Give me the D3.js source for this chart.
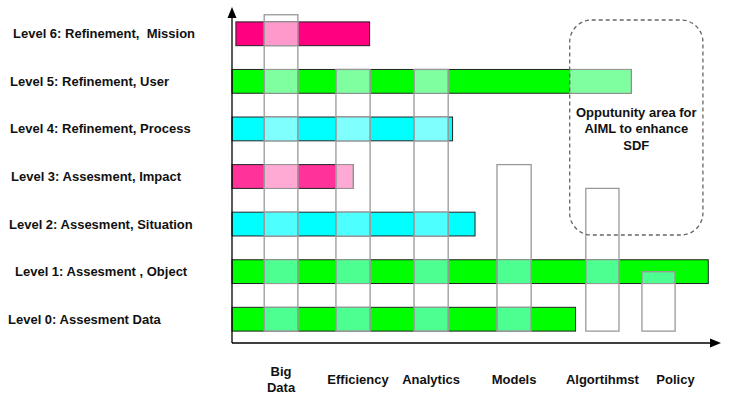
<!DOCTYPE html>
<html>
<head>
<meta charset="utf-8">
<script src="https://cdn.jsdelivr.net/npm/d3@7"></script>
<style>
  body { margin: 0; background: #fff; }
  svg { display: block; font-family: "Liberation Sans", Arial, sans-serif; }
  text { white-space: pre; }
</style>
</head>
<body>
<div id="chart"></div>
<script>
// levels, bottom to top
var levels = ["Level 0: Assesment Data", "Level 1: Assesment , Object", "Level 2: Assesment, Situation",
              "Level 3: Assesment, Impact", "Level 4: Refinement, Process", "Level 5: Refinement, User",
              "Level 6: Refinement,  Mission"];
var levelStart = [0, 0, 0, 0, 0, 0, 0.4];
var levelEnd = [35.2, 48.8, 24.9, 12.4, 22.6, 40.9, 14.1];
var levelColor = ["#00ff00", "#00ff00", "#00ffff", "#ff3399", "#00ffff", "#00ff00", "#ff0080"];
var levelLight = ["#4dff91", "#4dff91", "#4dffff", "#ffaad5", "#80ffff", "#80ffa0", "#ff99cc"];

// vertical columns
var categories = ["Big Data", "Efficiency", "Analytics", "Models", "Algortihmst", "Policy"];
var catStart = [3.3, 10.65, 18.65, 27.15, 36.25, 42.0];
var catEnd = [6.75, 14.15, 22.15, 30.65, 39.65, 45.4];
var catTop = [6.4, 5.25, 5.25, 3.25, 2.75, 1.0];
var catBottom = -0.25;

// opportunity area: x0, x1, top, bottom
var area = [34.6, 48.25, 6.29, 1.77];
var areaText = ["Opputunity area for", "AIML to enhance", "SDF"];

// label nudges (layout only)
var levelLabelX = [8, 15, 9, 11, 10, 10, 13];
var catLabelDx = [0, 5, 0, 0, 0, 17];

var width = 731, height = 403;
var half = 0.25;

var svg = d3.select("#chart").append("svg")
            .attr("width", width)
            .attr("height", height);

var x = d3.scaleLinear().domain([0, 50]).range([232, 720]);
var y = d3.scaleLinear().domain([-0.5, 6.5]).range([343, 10]);

// level bars
svg.selectAll(".bar")
   .data(levels)
   .enter().append("rect")
   .attr("class", "bar")
   .attr("x", function (d, i) { return x(levelStart[i]); })
   .attr("y", function (d, i) { return y(i + half); })
   .attr("width", function (d, i) { return x(levelEnd[i]) - x(levelStart[i]); })
   .attr("height", function (d, i) { return y(i - half) - y(i + half); })
   .attr("fill", function (d, i) { return levelColor[i]; })
   .attr("stroke", "#222")
   .attr("stroke-width", 1);

// light parts where a column (or the area) crosses a bar
var cuts = [];
levels.forEach(function (d, i) {
  var regions = categories.map(function (c, j) {
    return [catStart[j], catEnd[j], catTop[j], catBottom];
  });
  regions.push(area);
  regions.forEach(function (r) {
    var x0 = Math.max(levelStart[i], r[0]), x1 = Math.min(levelEnd[i], r[1]);
    var t = Math.min(i + half, r[2]), b = Math.max(i - half, r[3]);
    if (x1 > x0 && t > b) cuts.push({ x0: x0, x1: x1, t: t, b: b, fill: levelLight[i] });
  });
});

svg.selectAll(".cut")
   .data(cuts)
   .enter().append("rect")
   .attr("class", "cut")
   .attr("x", function (d) { return x(d.x0); })
   .attr("y", function (d) { return y(d.t); })
   .attr("width", function (d) { return x(d.x1) - x(d.x0); })
   .attr("height", function (d) { return y(d.b) - y(d.t); })
   .attr("fill", function (d) { return d.fill; })
   .attr("stroke", "#999")
   .attr("stroke-width", 1);

// column outlines
svg.selectAll(".col")
   .data(categories)
   .enter().append("rect")
   .attr("class", "col")
   .attr("x", function (d, i) { return x(catStart[i]); })
   .attr("y", function (d, i) { return y(catTop[i]); })
   .attr("width", function (d, i) { return x(catEnd[i]) - x(catStart[i]); })
   .attr("height", function (d, i) { return y(catBottom) - y(catTop[i]); })
   .attr("fill", "none")
   .attr("stroke", "#999")
   .attr("stroke-width", 1.3);

// dashed opportunity box
svg.append("rect")
   .attr("x", x(area[0]))
   .attr("y", y(area[2]))
   .attr("width", x(area[1]) - x(area[0]))
   .attr("height", y(area[3]) - y(area[2]))
   .attr("rx", 22)
   .attr("fill", "none")
   .attr("stroke", "#666")
   .attr("stroke-width", 1.3)
   .attr("stroke-dasharray", "4,3");

svg.append("text")
   .attr("x", (x(area[0]) + x(area[1])) / 2)
   .attr("y", 112)
   .attr("text-anchor", "middle")
   .attr("font-size", "13px")
   .attr("font-weight", "bold")
   .attr("fill", "#111")
   .selectAll("tspan")
   .data(areaText)
   .enter().append("tspan")
   .attr("x", (x(area[0]) + x(area[1])) / 2)
   .attr("dy", function (d, i) { return i === 0 ? "0.35em" : "16.5"; })
   .text(function (d) { return d; });

// axes with arrows
var x0 = x(0), yBase = y(-0.5);
svg.append("line")
   .attr("x1", x0).attr("y1", yBase)
   .attr("x2", x0).attr("y2", 14)
   .attr("stroke", "#000").attr("stroke-width", 1.3);
svg.append("path")
   .attr("d", "M" + x0 + ",7 L" + (x0 - 4.5) + ",18 L" + (x0 + 4.5) + ",18 Z")
   .attr("fill", "#000");
svg.append("line")
   .attr("x1", x0).attr("y1", yBase)
   .attr("x2", 714).attr("y2", yBase)
   .attr("stroke", "#000").attr("stroke-width", 1.3);
svg.append("path")
   .attr("d", "M721," + yBase + " L710," + (yBase - 4.5) + " L710," + (yBase + 4.5) + " Z")
   .attr("fill", "#000");

// level labels
svg.selectAll(".lvl")
   .data(levels)
   .enter().append("text")
   .attr("class", "lvl")
   .attr("x", function (d, i) { return levelLabelX[i]; })
   .attr("y", function (d, i) { return y(i); })
   .attr("dy", "0.35em")
   .attr("font-size", "13px")
   .attr("font-weight", "bold")
   .attr("fill", "#111")
   .text(function (d) { return d; });

// category labels
var catLabels = svg.selectAll(".cat")
   .data(categories)
   .enter().append("text")
   .attr("class", "cat")
   .attr("text-anchor", "middle")
   .attr("font-size", "13px")
   .attr("font-weight", "bold")
   .attr("fill", "#111")
   .attr("transform", function (d, i) {
     return "translate(" + ((x(catStart[i]) + x(catEnd[i])) / 2 + catLabelDx[i]) + ",379.5)";
   });

catLabels.selectAll("tspan")
   .data(function (d) { return d.split(" ").map(function (w, k, a) { return { w: w, k: k, n: a.length }; }); })
   .enter().append("tspan")
   .attr("x", 0)
   .attr("y", function (d) { return (d.k - (d.n - 1) / 2) * 15.6; })
   .attr("dy", "0.35em")
   .text(function (d) { return d.w; });
</script>
</body>
</html>
